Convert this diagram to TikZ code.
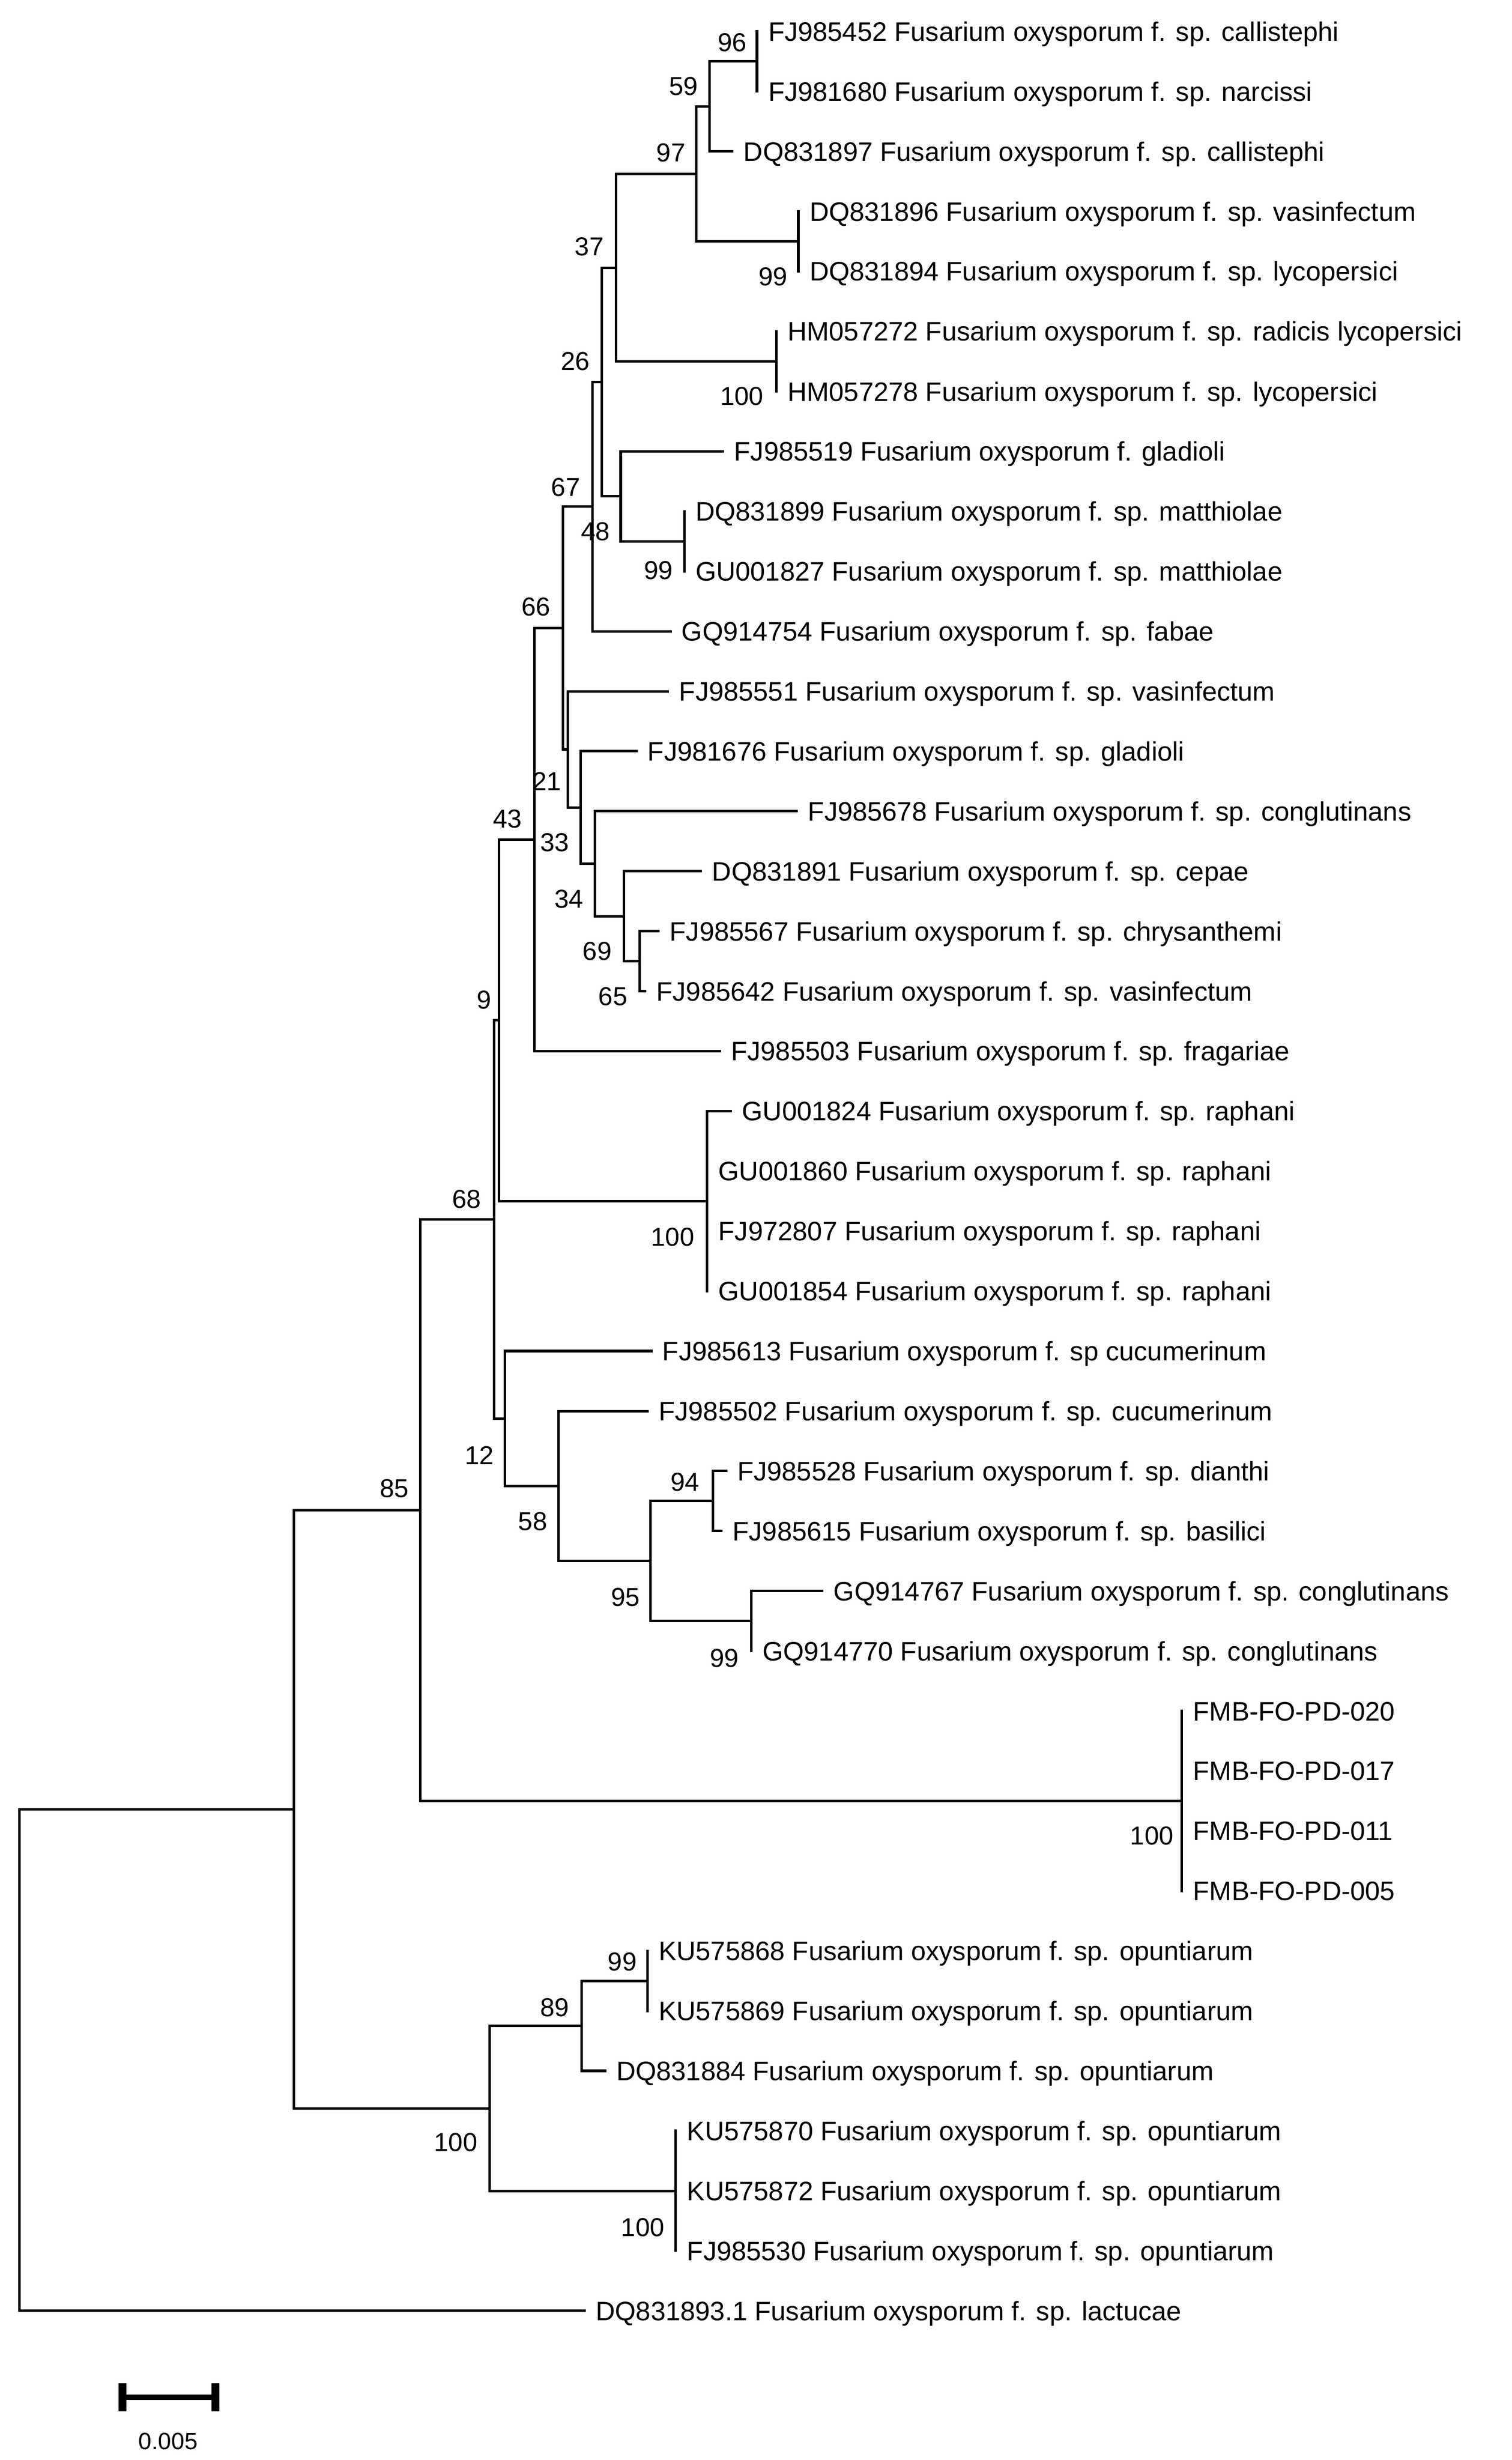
\documentclass[tikz,border=0pt]{standalone}
\usepackage{fontspec}
\setmainfont{Liberation Sans}
\begin{document}
\begin{tikzpicture}[x=1pt,y=-1pt,
  br/.style={line width=1.6pt,line cap=rect},
  leaf/.style={anchor=base west,inner sep=0pt,font=\fontsize{17}{20}\selectfont},
  bs/.style={anchor=center,inner sep=0pt,font=\fontsize{16.5}{19}\selectfont}]
\useasboundingbox (0,0) rectangle (962,1565);
% leaf tips
\def\L#1#2#3#4{\coordinate (t#1) at (#2,#3); \node[leaf] (l#1) at (#2+7,#3+6.1) {#4};}
\L{1}{481.7}{20.0}{FJ985452 Fusarium oxysporum f. sp. callistephi}
\L{2}{481.7}{58.2}{FJ981680 Fusarium oxysporum f. sp. narcissi}
\L{3}{466}{96.3}{DQ831897 Fusarium oxysporum f. sp. callistephi}
\L{4}{508}{134.5}{DQ831896 Fusarium oxysporum f. sp. vasinfectum}
\L{5}{508}{172.6}{DQ831894 Fusarium oxysporum f. sp. lycopersici}
\L{6}{494}{210.8}{HM057272 Fusarium oxysporum f. sp. radicis lycopersici}
\L{7}{494}{249.0}{HM057278 Fusarium oxysporum f. sp. lycopersici}
\L{8}{460}{287.1}{FJ985519 Fusarium oxysporum f. gladioli}
\L{9}{435.4}{325.3}{DQ831899 Fusarium oxysporum f. sp. matthiolae}
\L{10}{435.4}{363.4}{GU001827 Fusarium oxysporum f. sp. matthiolae}
\L{11}{426.6}{401.6}{GQ914754 Fusarium oxysporum f. sp. fabae}
\L{12}{425}{439.8}{FJ985551 Fusarium oxysporum f. sp. vasinfectum}
\L{13}{405}{477.9}{FJ981676 Fusarium oxysporum f. sp. gladioli}
\L{14}{507}{516.1}{FJ985678 Fusarium oxysporum f. sp. conglutinans}
\L{15}{446}{554.2}{DQ831891 Fusarium oxysporum f. sp. cepae}
\L{16}{419}{592.4}{FJ985567 Fusarium oxysporum f. sp. chrysanthemi}
\L{17}{410.5}{630.6}{FJ985642 Fusarium oxysporum f. sp. vasinfectum}
\L{18}{458}{668.7}{FJ985503 Fusarium oxysporum f. sp. fragariae}
\L{19}{465}{706.9}{GU001824 Fusarium oxysporum f. sp. raphani}
\L{20}{450}{745.0}{GU001860 Fusarium oxysporum f. sp. raphani}
\L{21}{450}{783.2}{FJ972807 Fusarium oxysporum f. sp. raphani}
\L{22}{450}{821.4}{GU001854 Fusarium oxysporum f. sp. raphani}
\L{23}{414.4}{859.5}{FJ985613 Fusarium oxysporum f. sp cucumerinum}
\L{24}{412}{897.7}{FJ985502 Fusarium oxysporum f. sp. cucumerinum}
\L{25}{462}{935.8}{FJ985528 Fusarium oxysporum f. sp. dianthi}
\L{26}{459}{974.0}{FJ985615 Fusarium oxysporum f. sp. basilici}
\L{27}{523.3}{1012.2}{GQ914767 Fusarium oxysporum f. sp. conglutinans}
\L{28}{478}{1050.3}{GQ914770 Fusarium oxysporum f. sp. conglutinans}
\L{29}{752}{1088.5}{FMB-FO-PD-020}
\L{30}{752}{1126.6}{FMB-FO-PD-017}
\L{31}{752}{1164.8}{FMB-FO-PD-011}
\L{32}{752}{1203.0}{FMB-FO-PD-005}
\L{33}{412}{1241.1}{KU575868 Fusarium oxysporum f. sp. opuntiarum}
\L{34}{412}{1279.3}{KU575869 Fusarium oxysporum f. sp. opuntiarum}
\L{35}{385}{1317.4}{DQ831884 Fusarium oxysporum f. sp. opuntiarum}
\L{36}{430}{1355.6}{KU575870 Fusarium oxysporum f. sp. opuntiarum}
\L{37}{430}{1393.8}{KU575872 Fusarium oxysporum f. sp. opuntiarum}
\L{38}{430}{1431.9}{FJ985530 Fusarium oxysporum f. sp. opuntiarum}
\L{39}{372}{1470.1}{DQ831893.1 Fusarium oxysporum f. sp. lactucae}
% internal nodes
\coordinate (a96) at (481.7,39.1);
\coordinate (a59) at (451.5,67.7);
\coordinate (a99a) at (508,153.6);
\coordinate (a97) at (443,110.6);
\coordinate (a100a) at (494,229.9);
\coordinate (a37) at (392,170.3);
\coordinate (a99b) at (435.4,344.4);
\coordinate (aG) at (395,315.7);
\coordinate (a26) at (383,243);
\coordinate (a48) at (377,322.3);
\coordinate (a65) at (407,611.5);
\coordinate (a69) at (397,582.9);
\coordinate (a34) at (378.6,549.5);
\coordinate (a33) at (369.4,513.7);
\coordinate (a21) at (361.4,476.7);
\coordinate (a67) at (358.3,399.5);
\coordinate (a66) at (340,534.1);
\coordinate (a100r) at (450,764.1);
\coordinate (a43) at (317.4,649.1);
\coordinate (a94) at (453.6,954.9);
\coordinate (a99c) at (478,1031.2);
\coordinate (a95) at (413.8,993.1);
\coordinate (a58) at (355.5,945.4);
\coordinate (a12) at (321.2,902.5);
\coordinate (a68) at (314.4,775.8);
\coordinate (aF) at (752,1145.7);
\coordinate (a85) at (267.5,960.8);
\coordinate (a99d) at (412,1260.2);
\coordinate (a89) at (370,1288.8);
\coordinate (a100d) at (430,1393.8);
\coordinate (a100o) at (311.5,1341.3);
\coordinate (aX) at (187,1151);
\coordinate (root) at (12.4,1310.5);
% branches
\begin{scope}[br]
\draw (a96) |- (t1); \draw (a96) |- (t2);
\draw (a59) |- (a96); \draw (a59) |- (t3);
\draw (a99a) |- (t4); \draw (a99a) |- (t5);
\draw (a97) |- (a59); \draw (a97) |- (a99a);
\draw (a100a) |- (t6); \draw (a100a) |- (t7);
\draw (a37) |- (a97); \draw (a37) |- (a100a);
\draw (a99b) |- (t9); \draw (a99b) |- (t10);
\draw (aG) |- (t8); \draw (aG) |- (a99b);
\draw (a26) |- (a37); \draw (a26) |- (aG);
\draw (a48) |- (a26); \draw (a48) |- (t11);
\draw (a65) |- (t16); \draw (a65) |- (t17);
\draw (a69) |- (t15); \draw (a69) |- (a65);
\draw (a34) |- (t14); \draw (a34) |- (a69);
\draw (a33) |- (t13); \draw (a33) |- (a34);
\draw (a21) |- (t12); \draw (a21) |- (a33);
\draw (a67) |- (a48); \draw (a67) |- (a21);
\draw (a66) |- (a67); \draw (a66) |- (t18);
\draw (a100r) |- (t19); \draw (a100r) |- (t20); \draw (a100r) |- (t21); \draw (a100r) |- (t22);
\draw (a43) |- (a66); \draw (a43) |- (a100r);
\draw (a94) |- (t25); \draw (a94) |- (t26);
\draw (a99c) |- (t27); \draw (a99c) |- (t28);
\draw (a95) |- (a94); \draw (a95) |- (a99c);
\draw (a58) |- (t24); \draw (a58) |- (a95);
\draw (a12) |- (t23); \draw (a12) |- (a58);
\draw (a68) |- (a43); \draw (a68) |- (a12);
\draw (aF) |- (t29); \draw (aF) |- (t32);
\draw (a85) |- (a68); \draw (a85) |- (aF);
\draw (a99d) |- (t33); \draw (a99d) |- (t34);
\draw (a89) |- (a99d); \draw (a89) |- (t35);
\draw (a100d) |- (t36); \draw (a100d) |- (t38);
\draw (a100o) |- (a89); \draw (a100o) |- (a100d);
\draw (aX) |- (a85); \draw (aX) |- (a100o);
\draw (root) |- (aX); \draw (root) |- (t39);
\end{scope}
% bootstrap values
\node[bs] (b1) at (466,27) {96};
\node[bs] (b2) at (435,55) {59};
\node[bs] (b3) at (427,97) {97};
\node[bs] (b4) at (492,176) {99};
\node[bs] (b5) at (375,157) {37};
\node[bs] (b6) at (472,252) {100};
\node[bs] (b7) at (366,230) {26};
\node[bs] (b8) at (419,363) {99};
\node[bs] (b9) at (360,310) {67};
\node[bs] (b10) at (379,338) {48};
\node[bs] (b11) at (341,386) {66};
\node[bs] (b12) at (348,497) {21};
\node[bs] (b13) at (323,521) {43};
\node[bs] (b14) at (353,536) {33};
\node[bs] (b15) at (362,572) {34};
\node[bs] (b16) at (380,605) {69};
\node[bs] (b17) at (390,634) {65};
\node[bs] (b18) at (308,636) {9};
\node[bs] (b19) at (297,763) {68};
\node[bs] (b20) at (428,787) {100};
\node[bs] (b21) at (305,926) {12};
\node[bs] (b22) at (436,943) {94};
\node[bs] (b23) at (339,968) {58};
\node[bs] (b24) at (398,1016) {95};
\node[bs] (b25) at (461,1055) {99};
\node[bs] (b26) at (251,947) {85};
\node[bs] (b27) at (733,1168) {100};
\node[bs] (b28) at (396,1248) {99};
\node[bs] (b29) at (353,1277) {89};
\node[bs] (b30) at (290,1363) {100};
\node[bs] (b31) at (409,1417) {100};
% scale bar
\coordinate (s1) at (78,1525);
\coordinate (s2) at (137,1525);
\draw[line width=3.5pt] (s1) -- (s2);
\draw[line width=5pt] ([yshift=-9]s1) -- ([yshift=9]s1);
\draw[line width=5pt] ([yshift=-9]s2) -- ([yshift=9]s2);
\node[bs,font=\fontsize{15}{18}\selectfont] (sl) at (107,1553) {0.005};
\end{tikzpicture}
\end{document}
